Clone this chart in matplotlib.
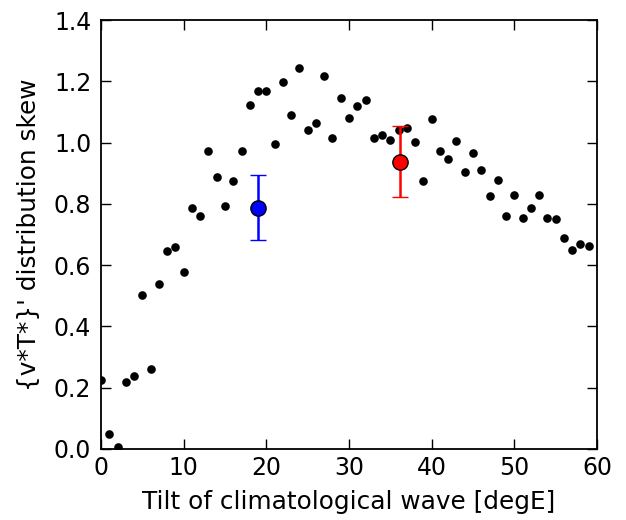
import matplotlib
matplotlib.use("Agg")
import matplotlib.pyplot as plt
import numpy as np

tilt = list(range(60))
skew = [0.225, 0.049, 0.006, 0.220, 0.239, 0.502, 0.262, 0.537, 0.647, 0.660,
        0.576, 0.788, 0.759, 0.974, 0.889, 0.793, 0.876, 0.972, 1.121, 1.167,
        1.167, 0.994, 1.197, 1.090, 1.242, 1.041, 1.063, 1.217, 1.016, 1.147,
        1.081, 1.118, 1.139, 1.016, 1.024, 1.010, 1.042, 1.048, 1.002, 0.874,
        1.078, 0.974, 0.948, 1.004, 0.905, 0.967, 0.909, 0.825, 0.879, 0.761,
        0.828, 0.755, 0.786, 0.830, 0.754, 0.751, 0.687, 0.651, 0.670, 0.663]

blue_x, blue_y = 19.0, 0.788
blue_lo, blue_hi = 0.681, 0.895
red_x, red_y = 36.2, 0.938
red_lo, red_hi = 0.822, 1.054

fig = plt.figure(figsize=(6.26, 5.2), dpi=100)
ax = fig.add_axes([101/626, 1 - 449/520, (597-101)/626, (449-20)/520])

ax.plot(tilt, skew, 'o', color='black', markersize=6.2, markeredgewidth=0)

ax.errorbar([blue_x], [blue_y], yerr=[[blue_y - blue_lo], [blue_hi - blue_y]],
            fmt='o', color='blue', ecolor='blue', markersize=11,
            markeredgecolor='black', markeredgewidth=1, elinewidth=1.8,
            capsize=6, capthick=1.8, zorder=3)
ax.errorbar([red_x], [red_y], yerr=[[red_y - red_lo], [red_hi - red_y]],
            fmt='o', color='red', ecolor='red', markersize=11,
            markeredgecolor='black', markeredgewidth=1, elinewidth=1.8,
            capsize=6, capthick=1.8, zorder=3)

ax.set_xlim(0, 60)
ax.set_ylim(0, 1.4)
ax.set_xticks([0, 10, 20, 30, 40, 50, 60])
ax.set_yticks([0.0, 0.2, 0.4, 0.6, 0.8, 1.0, 1.2, 1.4])
ax.set_yticklabels(['0.0', '0.2', '0.4', '0.6', '0.8', '1.0', '1.2', '1.4'])
ax.tick_params(direction='in', top=True, right=True, length=7, width=1,
               labelsize=17)
ax.tick_params(axis='x', pad=5)
ax.tick_params(axis='y', pad=7)
for s in ax.spines.values():
    s.set_linewidth(1.3)

ax.set_xlabel("Tilt of climatological wave [degE]", fontsize=17.8, labelpad=7)
ax.set_ylabel("{v*T*}' distribution skew", fontsize=17.8, labelpad=9)

fig.savefig("out.png", dpi=100)
